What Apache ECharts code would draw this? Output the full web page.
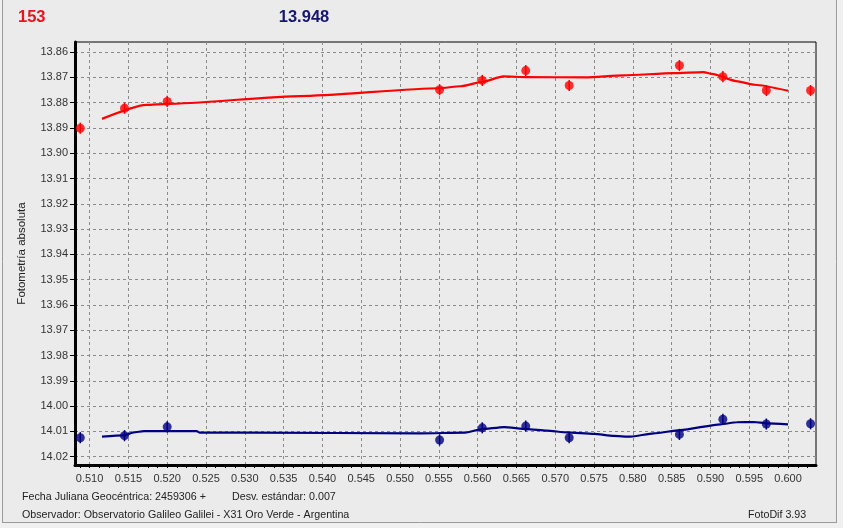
<!DOCTYPE html>
<html>
<head>
<meta charset="utf-8">
<script src="https://cdn.jsdelivr.net/npm/echarts@6/dist/echarts.min.js"></script>
<style>
html,body{margin:0;padding:0;background:#f0f0f0;}
#c{width:843px;height:528px;}
</style>
</head>
<body>
<div id="c"></div>
<script>
// ---- data ----
var timeX = [0.5088, 0.5145, 0.5200, 0.5551, 0.5606, 0.5662, 0.5718, 0.5860, 0.5916, 0.5972, 0.6029];
var redY  = [13.8901, 13.8822, 13.8795, 13.8749, 13.8712, 13.8673, 13.8732, 13.8653, 13.8697, 13.8752, 13.8752];
var blueY = [14.0125, 14.0117, 14.0082, 14.0134, 14.0086, 14.0079, 14.0125, 14.0112, 14.0052, 14.0071, 14.0070];
var redErr  = [0.0022, 0.0022, 0.0022, 0.0022, 0.0022, 0.0022, 0.0022, 0.0022, 0.0022, 0.0022, 0.0022];
var blueErr = [0.0022, 0.0022, 0.0022, 0.0022, 0.0022, 0.0022, 0.0022, 0.0022, 0.0022, 0.0022, 0.0022];

var redFitX = [0.5116, 0.5173, 0.5200, 0.5372, 0.5550, 0.5578, 0.5606, 0.5633, 0.5663, 0.5739, 0.5788, 0.5852, 0.5891, 0.5902, 0.5935, 0.5957, 0.6000];
var redFitY = [13.8864, 13.8809, 13.8805, 13.8774, 13.8743, 13.8735, 13.8718, 13.8696, 13.8699, 13.8700, 13.8692, 13.8683, 13.8679, 13.8686, 13.8716, 13.8729, 13.8753];

var blueFitX = [0.5116, 0.5144, 0.5157, 0.5170, 0.5238, 0.5242, 0.5307, 0.5526, 0.5584, 0.5604, 0.5634, 0.5664, 0.5689, 0.5715, 0.5750, 0.5775, 0.5797, 0.5827, 0.5861, 0.5913, 0.5934, 0.5956, 0.5973, 0.6000];
var blueFitY = [14.0121, 14.0116, 14.0104, 14.0099, 14.0099, 14.0105, 14.0105, 14.0108, 14.0105, 14.0092, 14.0083, 14.0091, 14.0097, 14.0104, 14.0110, 14.0118, 14.0121, 14.0108, 14.0095, 14.0072, 14.0064, 14.0063, 14.0068, 14.0072];

var yTicks = [13.86, 13.87, 13.88, 13.89, 13.90, 13.91, 13.92, 13.93, 13.94, 13.95, 13.96, 13.97, 13.98, 13.99, 14.00, 14.01, 14.02];
var xTicks = [0.510, 0.515, 0.520, 0.525, 0.530, 0.535, 0.540, 0.545, 0.550, 0.555, 0.560, 0.565, 0.570, 0.575, 0.580, 0.585, 0.590, 0.595, 0.600];
var xMinorTicks = [];
for (var i = 0; i < xTicks.length; i++) {
  for (var k = 0; k < 4; k++) xMinorTicks.push(+(xTicks[i] + k * 0.00125).toFixed(5));
}
xMinorTicks.unshift(0.50875);
xMinorTicks.push(0.60125, 0.6025);

var titleLeft = '153';
var titleMid = '13.948';
var yTitle = 'Fotometría absoluta';
var foot1 = 'Fecha Juliana Geocéntrica: 2459306 +';
var foot2 = 'Desv. estándar: 0.007';
var foot3 = 'Observador: Observatorio Galileo Galilei - X31 Oro Verde - Argentina';
var foot4 = 'FotoDif 3.93';

var X_MIN = 0.50812, X_MAX = 0.6036, Y_MIN = 13.856, Y_MAX = 14.0233;
var RED = '#ff0000', BLUE = '#000080';

function zip(a, b, c) {
  return a.map(function (v, i) { return c ? [v, b[i], c[i]] : [v, b[i]]; });
}
function errRender(color) {
  return function (params, api) {
    var x = api.value(0), y = api.value(1), e = api.value(2);
    var p1 = api.coord([x, y - e]);
    var p2 = api.coord([x, y + e]);
    return { type: 'line', shape: { x1: p1[0], y1: p1[1], x2: p2[0], y2: p2[1] },
      style: { stroke: color, lineWidth: 1.5 } };
  };
}

var chart = echarts.init(document.getElementById('c'), null, { renderer: 'canvas' });
var font = 'Liberation Sans, Arial, sans-serif';
chart.setOption({
  backgroundColor: '#f0f0f0',
  animation: false,
  textStyle: { fontFamily: font },
  grid: { left: 75, top: 42, right: 27, bottom: 63, show: true, borderColor: '#000', borderWidth: 1, backgroundColor: 'transparent' },
  graphic: [
    { type: 'rect', z: -10, shape: { x: 3, y: 0, width: 833, height: 522 }, style: { fill: '#ebebeb' }, silent: true },
    { type: 'line', z: -9, shape: { x1: 2.5, y1: 0, x2: 2.5, y2: 523 }, style: { stroke: '#9a9a9a', lineWidth: 1 } },
    { type: 'line', z: -9, shape: { x1: 836.5, y1: 0, x2: 836.5, y2: 523 }, style: { stroke: '#9a9a9a', lineWidth: 1 } },
    { type: 'line', z: -9, shape: { x1: 2, y1: 522.5, x2: 837, y2: 522.5 }, style: { stroke: '#9a9a9a', lineWidth: 1 } },
    { type: 'text', x: 18, y: 17, style: { text: titleLeft, fill: '#e8131b', font: 'bold 16.5px ' + font, verticalAlign: 'middle' } },
    { type: 'text', x: 304, y: 17, style: { text: titleMid, fill: '#16166e', font: 'bold 16.5px ' + font, align: 'center', verticalAlign: 'middle' } },
    { type: 'text', x: 22, y: 497, style: { text: foot1, fill: '#222', font: '10.7px ' + font, verticalAlign: 'middle' } },
    { type: 'text', x: 232, y: 497, style: { text: foot2, fill: '#222', font: '10.7px ' + font, verticalAlign: 'middle' } },
    { type: 'text', x: 22, y: 515, style: { text: foot3, fill: '#222', font: '10.7px ' + font, verticalAlign: 'middle' } },
    { type: 'text', x: 748, y: 515, style: { text: foot4, fill: '#222', font: '10.7px ' + font, verticalAlign: 'middle' } }
  ],
  xAxis: [{
    type: 'value', min: X_MIN, max: X_MAX, position: 'bottom',
    axisLine: { show: true, onZero: false, lineStyle: { color: '#000', width: 3 } },
    axisTick: { show: true, customValues: xTicks, length: 3, inside: false, lineStyle: { color: '#000' } },
    axisLabel: { customValues: xTicks, margin: 8, color: '#333', fontSize: 11, fontFamily: font,
      formatter: function (v) { return v.toFixed(3); } },
    splitLine: { show: true, lineStyle: { color: '#8a8a8a', type: [3, 3], width: 1 } }
  }, {
    type: 'value', min: X_MIN, max: X_MAX, position: 'bottom',
    axisLine: { show: false },
    axisTick: { show: true, customValues: xMinorTicks, length: 3, lineStyle: { color: '#000' } },
    axisLabel: { show: false },
    splitLine: { show: false }
  }],
  yAxis: {
    type: 'value', min: Y_MIN, max: Y_MAX, inverse: true,
    name: yTitle, nameLocation: 'middle', nameGap: 47, nameRotate: 90,
    nameTextStyle: { color: '#222', fontSize: 11.5, fontFamily: font },
    axisLine: { show: true, onZero: false, lineStyle: { color: '#000', width: 3 } },
    axisTick: { show: true, customValues: yTicks, length: 5, lineStyle: { color: '#000' } },
    axisLabel: { customValues: yTicks, margin: 7, color: '#333', fontSize: 11, fontFamily: font,
      formatter: function (v) { return v.toFixed(2); } },
    splitLine: { show: true, lineStyle: { color: '#8a8a8a', type: [3, 3], width: 1 } }
  },
  series: [
    { type: 'line', data: zip(redFitX, redFitY), showSymbol: false, symbol: 'none', smooth: 0.2, smoothMonotone: 'x',
      lineStyle: { color: RED, width: 2.2 }, z: 2 },
    { type: 'line', data: zip(blueFitX, blueFitY), showSymbol: false, symbol: 'none', smooth: 0.2, smoothMonotone: 'x',
      lineStyle: { color: BLUE, width: 2.2 }, z: 2 },
    { type: 'custom', data: zip(timeX, redY, redErr), renderItem: errRender(RED), z: 3, clip: false },
    { type: 'custom', data: zip(timeX, blueY, blueErr), renderItem: errRender(BLUE), z: 3, clip: false },
    { type: 'scatter', data: zip(timeX, redY), symbol: 'circle', symbolSize: 9, itemStyle: { color: RED }, z: 4 },
    { type: 'scatter', data: zip(timeX, blueY), symbol: 'circle', symbolSize: 9, itemStyle: { color: BLUE }, z: 4 }
  ]
});
</script>
</body>
</html>
